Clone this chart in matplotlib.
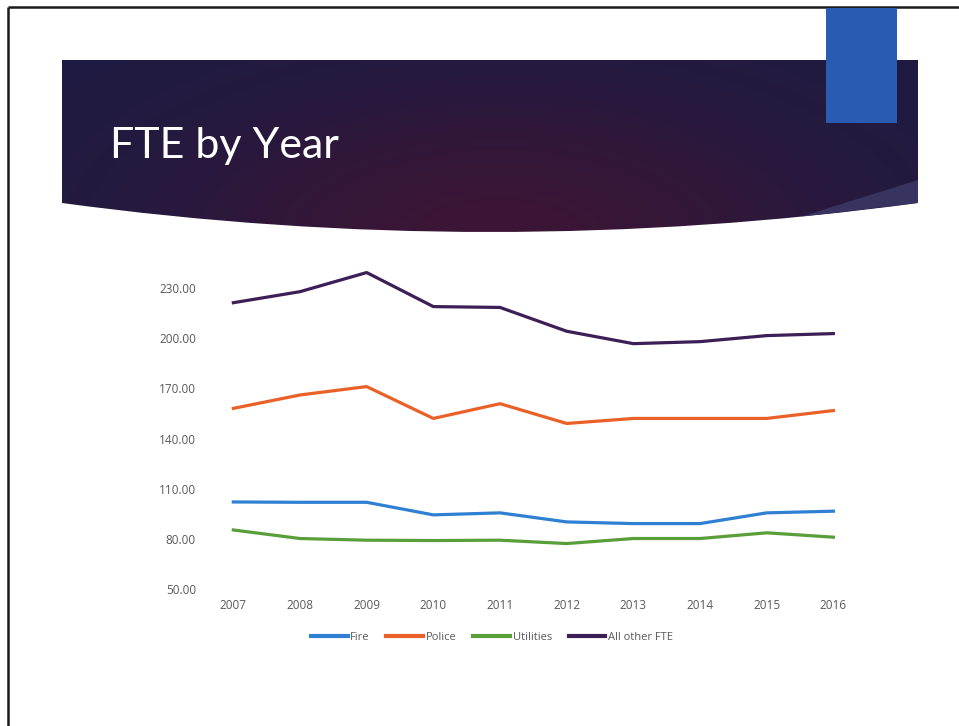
import numpy as np
import matplotlib
matplotlib.use("Agg")
import matplotlib.pyplot as plt
from matplotlib.path import Path
from matplotlib.patches import PathPatch, Rectangle, Polygon

years = ["2007", "2008", "2009", "2010", "2011", "2012", "2013", "2014", "2015", "2016"]
fire = [102.2, 102.0, 102.0, 94.5, 95.7, 90.3, 89.3, 89.3, 95.7, 96.7]
police = [158.0, 166.0, 171.0, 152.0, 160.8, 149.0, 152.0, 152.0, 152.0, 156.7]
utilities = [85.5, 80.4, 79.4, 79.2, 79.4, 77.4, 80.4, 80.4, 83.8, 81.2]
all_other = [221.0, 227.6, 239.0, 218.7, 218.2, 204.0, 196.6, 197.8, 201.4, 202.6]
series_names = ["Fire", "Police", "Utilities", "All other FTE"]
series_colors = ["#2f80d2", "#ea6128", "#5a9e3a", "#3b1f56"]
yticks = [50, 80, 110, 140, 170, 200, 230]
title = "FTE by Year"

W, H = 959, 726
fig = plt.figure(figsize=(W / 100, H / 100), dpi=100)
fig.patch.set_facecolor("white")

# ---- slide decoration layer (pixel coordinates) ----
bg = fig.add_axes([0, 0, 1, 1])
bg.set_xlim(0, W)
bg.set_ylim(H, 0)
bg.axis("off")

# slide border
bg.plot([8, 8], [7, H], color="#1a1a1a", lw=1.8, solid_capstyle="butt")
bg.plot([8, W], [7, 7], color="#1a1a1a", lw=1.8, solid_capstyle="butt")

# banner with curved bottom and gradient
x0, x1, ytop, yside, yctrl = 62, 918, 60, 203, 261
verts = [(x0, ytop), (x1, ytop), (x1, yside), ((x0 + x1) / 2, yctrl), (x0, yside), (x0, ytop)]
codes = [Path.MOVETO, Path.LINETO, Path.LINETO, Path.CURVE3, Path.CURVE3, Path.CLOSEPOLY]
banner_path = Path(verts, codes)
clip = PathPatch(banner_path, facecolor="none", edgecolor="none")
bg.add_patch(clip)

gx = np.linspace(x0, x1, 400)
gy = np.linspace(ytop, 240, 120)
XX, YY = np.meshgrid(gx, gy)
t = np.exp(-((XX - 500) / 330.0) ** 2 - ((YY - 240) / 150.0) ** 2)
navy = np.array([0x1e, 0x1b, 0x42]) / 255.0
maroon = np.array([0x3c, 0x15, 0x35]) / 255.0
img = navy[None, None, :] * (1 - t[..., None]) + maroon[None, None, :] * t[..., None]
im = bg.imshow(img, extent=[x0, x1, 240, ytop], origin="upper", aspect="auto",
               interpolation="bilinear", zorder=1)
im.set_clip_path(clip)

# lighter wedge at the bottom right of the banner
wedge = Polygon([(800, 217), (918, 180), (918, 203)], closed=True,
                facecolor="#38335f", edgecolor="none", zorder=2)
bg.add_patch(wedge)
wedge.set_clip_path(clip)

# blue accent block
bg.add_patch(Rectangle((826, 8), 71, 115, facecolor="#2a5bb3", edgecolor="none", zorder=3))

bg.text(110, 158, title, color="white", fontsize=31, family="Lato",
        fontweight="normal", ha="left", va="baseline", zorder=4)

# ---- chart ----
ax = fig.add_axes([200 / W, (H - 589.5) / H, 666.7 / W, 195 * 1.677 / H])
ax.patch.set_alpha(0)
x = np.arange(len(years))
for vals, name, col in zip([fire, police, utilities, all_other], series_names, series_colors):
    ax.plot(x, vals, color=col, lw=2.3, label=name, solid_joinstyle="round")

ax.set_xlim(-0.5, len(years) - 0.5)
ax.set_ylim(50, 245)
ax.set_yticks(yticks)
ax.set_yticklabels([f"{v:.2f}" for v in yticks])
ax.set_xticks(x)
ax.set_xticklabels(years)
for s in ax.spines.values():
    s.set_visible(False)
ax.tick_params(axis="both", length=0, colors="#595959", labelsize=8.5)
ax.tick_params(axis="y", pad=3)
ax.tick_params(axis="x", pad=7)
for lbl in ax.get_xticklabels() + ax.get_yticklabels():
    lbl.set_family("Open Sans")

leg = ax.legend(loc="upper center", bbox_to_anchor=(0.438, -0.098), ncol=4, frameon=False,
                handlelength=3.3, handletextpad=0.25, columnspacing=1.5,
                prop={"family": "Open Sans", "size": 8})
for txt in leg.get_texts():
    txt.set_color("#595959")
for ln in leg.get_lines():
    ln.set_linewidth(3)

fig.savefig("out.png", dpi=100, facecolor="white")
